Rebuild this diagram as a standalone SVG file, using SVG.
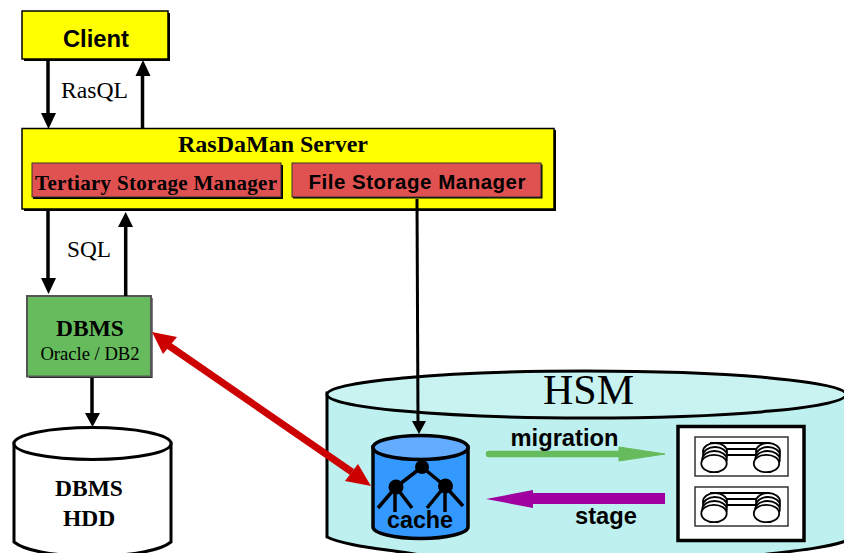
<svg xmlns="http://www.w3.org/2000/svg" width="844" height="553" viewBox="0 0 844 553">
<style>
.sans{font-family:"Liberation Sans",Arial,sans-serif;font-weight:bold;fill:#000}
.serif{font-family:"Liberation Serif","Times New Roman",serif;fill:#000}
.b{font-weight:bold}
.box{stroke:#000;stroke-width:1.5}
.shadow{fill:#000}
.red{fill:#e05252;stroke:#333;stroke-width:1}
.ln{fill:none;stroke:#000;stroke-width:3.5}
.rail{fill:none;stroke:#000;stroke-width:1.8}
</style>
<defs>
<g id="drive">
<path class="rail" d="M710 0H770M710 6H770M710 12H770"/>
<g fill="#fff" stroke="#000" stroke-width="1.800">
<ellipse cx="715" cy="8.500" rx="12" ry="8.500"/>
<ellipse cx="715" cy="12.500" rx="12" ry="8.500"/>
<ellipse cx="714.500" cy="16.500" rx="12.300" ry="8.500"/>
<ellipse cx="714" cy="20.500" rx="12.700" ry="8.700"/>
<ellipse cx="768" cy="8.500" rx="12" ry="8.500"/>
<ellipse cx="768" cy="12.500" rx="12" ry="8.500"/>
<ellipse cx="767.500" cy="16.500" rx="12.300" ry="8.500"/>
<ellipse cx="766.500" cy="20.500" rx="12.700" ry="8.700"/>
</g>
</g>
</defs>

<g id="hsm">
<path d="M327 393V537C345 546 385 549 420 555H760C795 551 825 548 846 541V393Z" fill="#bdf0ee" stroke="#000" stroke-width="3"/>
<ellipse cx="586.500" cy="394.500" rx="259.500" ry="23.500" fill="#c8f3f1" stroke="#000" stroke-width="3"/>
<text class="serif" x="588.500" y="404" font-size="42" text-anchor="middle">HSM</text>
</g>

<g id="client">
<rect class="shadow" x="24" y="13" width="146" height="48"/>
<rect class="box" x="22" y="11" width="146" height="48" fill="#ffff00"/>
<text class="sans" x="96" y="47" font-size="23.800" text-anchor="middle">Client</text>
</g>

<g id="server">
<rect class="shadow" x="24" y="130" width="532" height="81"/>
<rect class="box" x="22" y="128.500" width="532" height="80.500" fill="#ffff00"/>
<text class="serif b" x="273" y="152" font-size="24" text-anchor="middle">RasDaMan Server</text>
</g>

<g id="tertiary-storage-manager">
<rect class="shadow" x="33" y="165" width="250" height="34"/>
<rect class="red" x="32" y="163" width="249" height="34"/>
<text class="serif b" x="156" y="190" font-size="21" text-anchor="middle" textLength="242" lengthAdjust="spacing">Tertiary Storage Manager</text>
</g>

<g id="file-storage-manager">
<rect class="shadow" x="293" y="164.500" width="249.500" height="34"/>
<rect class="red" x="292" y="163" width="249" height="34"/>
<text class="sans" x="417" y="188.500" font-size="20.500" text-anchor="middle" textLength="217" lengthAdjust="spacing">File Storage Manager</text>
</g>

<g id="dbms">
<rect class="shadow" x="29" y="298" width="123.500" height="80"/>
<rect x="27" y="296" width="124" height="80.500" fill="#66bb5c" stroke="#555" stroke-width="2"/>
<text class="serif b" x="90" y="336" font-size="23.500" text-anchor="middle">DBMS</text>
<text class="serif" x="90" y="360" font-size="18.600" text-anchor="middle">Oracle / DB2</text>
</g>

<g id="dbms-hdd">
<path d="M14 443V542C24 550 50 556 92 556C134 556 161 550 171 542V443Z" fill="#fff" stroke="#000" stroke-width="3"/>
<ellipse cx="92.500" cy="443.500" rx="78.500" ry="16" fill="#fff" stroke="#000" stroke-width="3"/>
<text class="serif b" x="89" y="496" font-size="23.500" text-anchor="middle">DBMS</text>
<text class="serif b" x="89" y="526" font-size="23.500" text-anchor="middle">HDD</text>
</g>

<g id="cache">
<path d="M373 447V527C373 533 394 538.500 420.500 538.500C447 538.500 468 533 468 527V447Z" fill="#3399ff" stroke="#000" stroke-width="3.500"/>
<ellipse cx="420.500" cy="447.500" rx="47.500" ry="12" fill="#62abff" stroke="#000" stroke-width="3.500"/>
<path d="M422 467L396 487M422 467L445 486M396 487L378 508M395 487V512M396 487L412 508M445 486L427 508M445 486V512M445 486L463 506" fill="none" stroke="#000" stroke-width="3.500"/>
<circle cx="422" cy="467" r="7" fill="#000"/>
<circle cx="396" cy="487" r="7.500" fill="#000"/>
<circle cx="445.500" cy="486" r="7.500" fill="#000"/>
<text class="sans" x="420" y="528" font-size="23.300" text-anchor="middle">cache</text>
</g>

<g id="tape-library">
<rect x="678" y="426.500" width="126" height="114" fill="#fff" stroke="#000" stroke-width="3.500"/>
<rect x="695" y="437" width="93" height="39" fill="#fff" stroke="#333" stroke-width="1.500"/>
<rect x="695" y="487" width="93" height="39" fill="#fff" stroke="#333" stroke-width="1.500"/>
<use href="#drive" y="443"/>
<use href="#drive" y="493"/>
</g>

<g id="connectors">
<path class="ln" d="M48 59V115"/><path d="M41 113H56L48.500 129Z"/>
<path class="ln" d="M142.500 129V74"/><path d="M135.500 76H150.500L143 60Z"/>
<path class="ln" d="M48 209V280"/><path d="M41 278H56L48.500 294Z"/>
<path class="ln" d="M125.700 296V225"/><path d="M118 227H133L125.700 212Z"/>
<path class="ln" d="M92 378V415"/><path d="M85 413H100L92.500 427Z"/>
<path d="M417 199L418 423" fill="none" stroke="#000" stroke-width="3"/><path d="M412 421H426L419 434Z"/>
<path d="M165 343L352 472" fill="none" stroke="#cc0000" stroke-width="7"/>
<path d="M152 332L177 337L163 354Z" fill="#cc0000"/>
<path d="M371 486L345 481L358 464Z" fill="#cc0000"/>
<path d="M489 454H621" fill="none" stroke="#66bb5c" stroke-width="6.500" stroke-linecap="round"/>
<path d="M619 447L665 454L619 461Z" fill="#66bb5c" stroke="#66bb5c" stroke-linejoin="round"/>
<path d="M665 498.500H530" fill="none" stroke="#a000a0" stroke-width="11"/>
<path d="M533 490L486 499L533 508Z" fill="#a000a0"/>
</g>

<g id="labels">
<text class="serif" x="94.500" y="98" font-size="23.700" text-anchor="middle">RasQL</text>
<text class="serif" x="89" y="257" font-size="23.300" text-anchor="middle">SQL</text>
<text class="sans" x="564.500" y="446" font-size="23.700" text-anchor="middle">migration</text>
<text class="sans" x="606" y="523.500" font-size="23.700" text-anchor="middle">stage</text>
</g>
</svg>
